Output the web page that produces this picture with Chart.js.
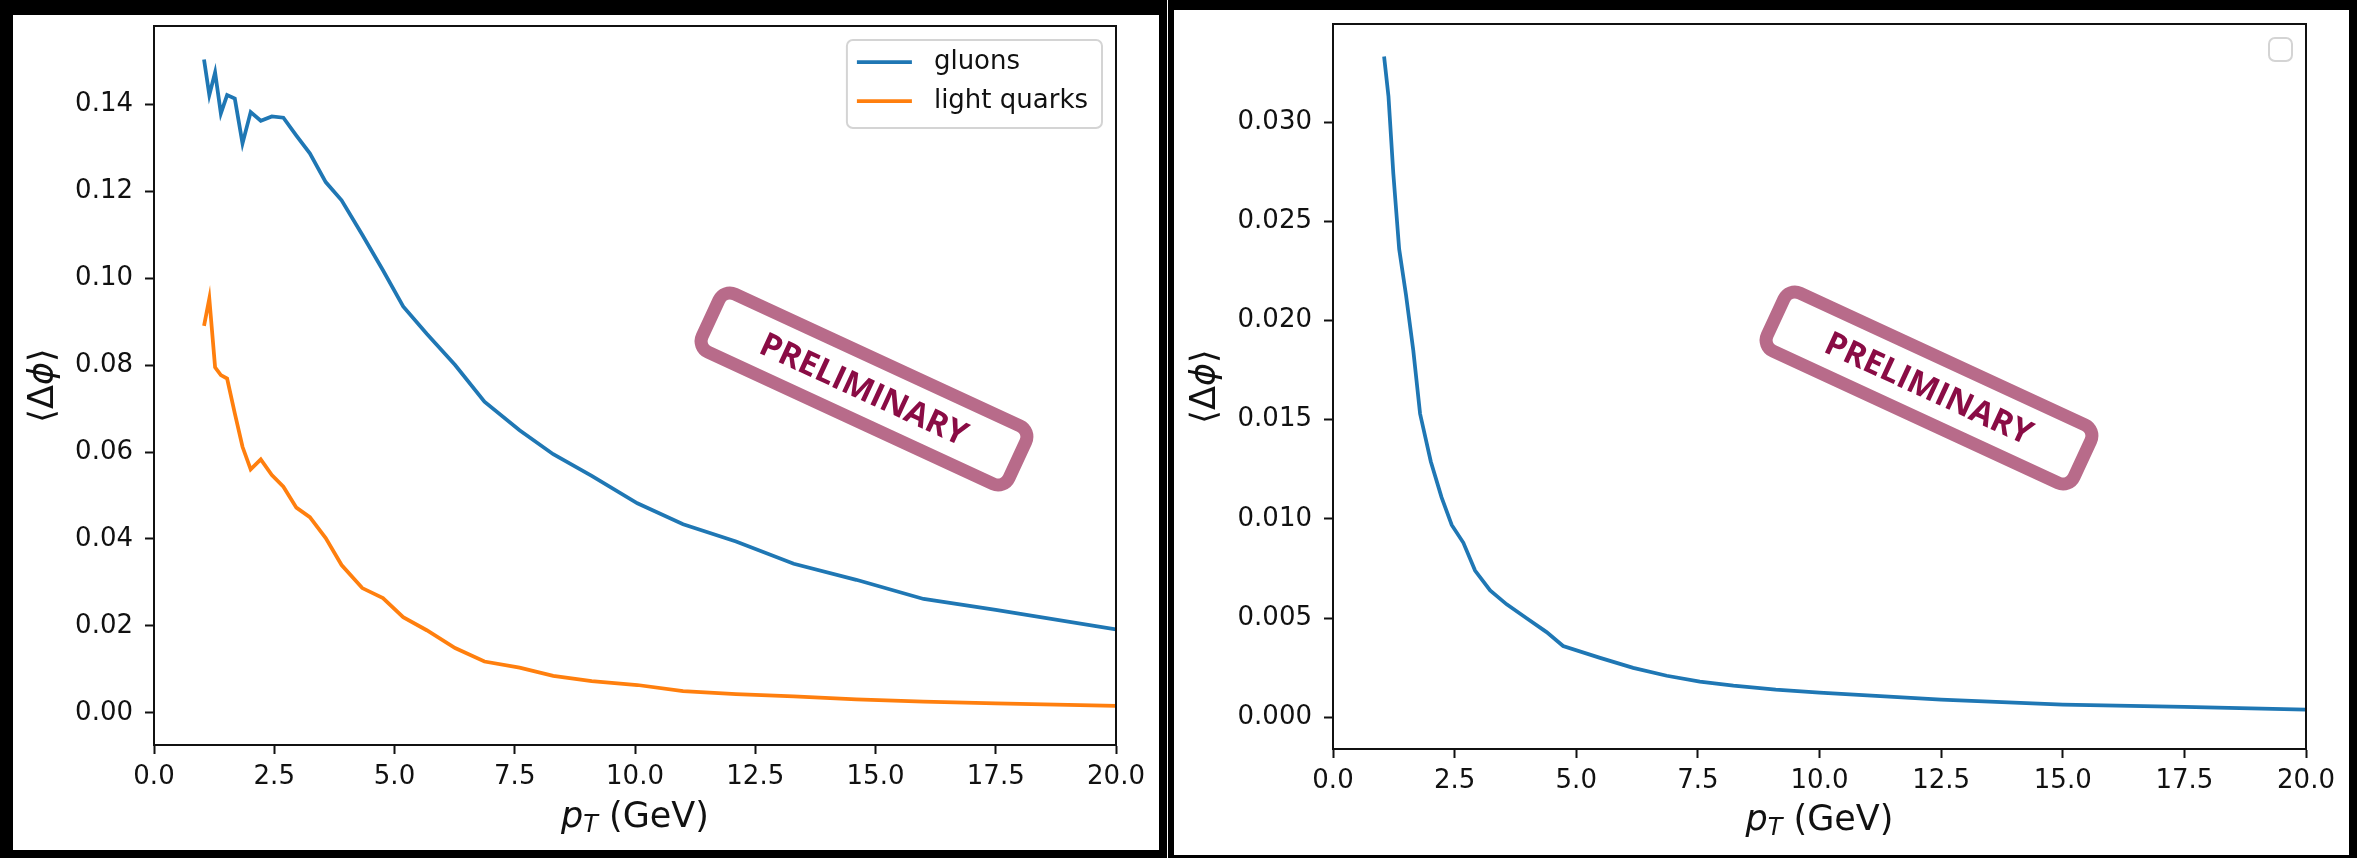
<!DOCTYPE html>
<html>
<head>
<meta charset="utf-8">
<title>mean delta phi vs pT</title>
<script src="https://cdn.jsdelivr.net/npm/chart.js@4.4.1/dist/chart.umd.min.js"></script>
<style>
  html, body { margin: 0; padding: 0; background: #fff; }
  .panel { position: absolute; top: 0; height: 858px; box-sizing: border-box; border-style: solid; border-color: #000; background: #fff; }
  #panel-left { left: 0; width: 1167px; border-width: 15px 8px 8px 13px; }
  #panel-right { left: 1168px; width: 1189px; border-width: 10px 8px 3px 6px; }
  canvas { display: block; }
</style>
</head>
<body>
<div class="panel" id="panel-left"><canvas id="chart-left" width="1146" height="835"></canvas></div>
<div class="panel" id="panel-right"><canvas id="chart-right" width="1175" height="845"></canvas></div>
<script>
// pT bin centres (GeV) and mean delta-phi for gluons / light quarks
var ptLeft = [1.04, 1.15, 1.27, 1.39, 1.52, 1.68, 1.84, 2.01, 2.22, 2.45, 2.69, 2.96, 3.24, 3.57, 3.90, 4.33,
              4.76, 5.18, 5.67, 6.26, 6.87, 7.6, 8.3, 9.1, 10.05, 11.0, 12.1, 13.3, 14.6, 16.0, 17.5, 20.0];
var gluons = [0.1503, 0.1421, 0.1473, 0.1379, 0.1421, 0.1413, 0.1310, 0.1382, 0.1362, 0.1372, 0.1369, 0.1328,
              0.1287, 0.1221, 0.1179, 0.1100, 0.1018, 0.0935, 0.0872, 0.0800, 0.0716, 0.0650, 0.0595, 0.0545,
              0.0482, 0.0434, 0.0394, 0.0343, 0.0306, 0.0262, 0.0237, 0.0192];
var lightQuarks = [0.0890, 0.0953, 0.0795, 0.0777, 0.0769, 0.0689, 0.0612, 0.0560, 0.0583, 0.0547, 0.0520, 0.0472,
                   0.0450, 0.0402, 0.0340, 0.0287, 0.0264, 0.0220, 0.0190, 0.0149, 0.0118, 0.0104, 0.0085, 0.0073,
                   0.0064, 0.0050, 0.0043, 0.0038, 0.0031, 0.0026, 0.0022, 0.0016];

// second panel, single unlabeled curve
var ptRight = [1.05, 1.14, 1.24, 1.36, 1.50, 1.65, 1.79, 2.01, 2.23, 2.44, 2.68, 2.92, 3.23, 3.57, 3.98, 4.39,
               4.73, 5.49, 6.17, 6.86, 7.54, 8.23, 9.10, 10.0, 12.5, 15.0, 17.5, 20.0];
var dphiRight = [0.0333, 0.0313, 0.0274, 0.0236, 0.0213, 0.0185, 0.0153, 0.0129, 0.0111, 0.0097, 0.0088, 0.0074,
                 0.0064, 0.0057, 0.0050, 0.0043, 0.0036, 0.0030, 0.0025, 0.0021, 0.0018, 0.0016, 0.0014, 0.00125,
                 0.00090, 0.00065, 0.00053, 0.00039];

var xTicks = [0, 2.5, 5, 7.5, 10, 12.5, 15, 17.5, 20];
var yTicksLeft = [0, 0.02, 0.04, 0.06, 0.08, 0.10, 0.12, 0.14];
var yTicksRight = [0, 0.005, 0.010, 0.015, 0.020, 0.025, 0.030];

var INK = '#111';
var TICK_FONT = { family: 'DejaVu Sans', size: 26 };

function pairs(xs, ys) {
    return xs.map(function (x, i) { return { x: x, y: ys[i] }; });
}

function drawRuns(ctx, runs, cx, cy) {
    var total = 0;
    runs.forEach(function (r) { ctx.font = r.font; total += ctx.measureText(r.text).width; });
    var x = cx - total / 2;
    ctx.textAlign = 'left';
    ctx.textBaseline = 'middle';
    runs.forEach(function (r) {
        ctx.font = r.font;
        ctx.fillText(r.text, x, cy + (r.dy || 0));
        x += ctx.measureText(r.text).width;
    });
}

// frame, axis titles, in-axes legend and the stamp
var decor = {
    id: 'decor',
    afterDraw: function (chart, args, opts) {
        var ctx = chart.ctx, a = chart.chartArea;
        ctx.save();

        // full box around the axes
        ctx.strokeStyle = INK;
        ctx.lineWidth = 2;
        ctx.strokeRect(a.left, a.top, a.right - a.left, a.bottom - a.top);

        // axis titles
        ctx.fillStyle = INK;
        var big = '35px "DejaVu Sans"', bigIt = 'oblique 35px "DejaVu Sans"';
        drawRuns(ctx, [
            { text: 'p', font: bigIt },
            { text: 'T', font: 'oblique 24px "DejaVu Sans"', dy: 8 },
            { text: ' (GeV)', font: big }
        ], (a.left + a.right) / 2, a.bottom + opts.xTitleOffset);

        ctx.save();
        ctx.translate(opts.yTitleX, (a.top + a.bottom) / 2);
        ctx.rotate(-Math.PI / 2);
        drawRuns(ctx, [
            { text: '\u27E8\u0394', font: big },
            { text: '\u03D5', font: bigIt },
            { text: '\u27E9', font: big }
        ], 0, 0);
        ctx.restore();

        // legend box, top right inside the axes
        var labeled = chart.data.datasets.filter(function (d) { return d.label; });
        ctx.font = '26px "DejaVu Sans"';
        var w = 23, h = 23;
        if (labeled.length) {
            var tw = Math.max.apply(null, labeled.map(function (d) { return ctx.measureText(d.label).width; }));
            w = 87 + tw + 14;
            h = 88;
        }
        var bx = a.right - 14 - w, by = a.top + 14;
        ctx.beginPath();
        ctx.roundRect(bx, by, w, h, 6);
        ctx.fillStyle = 'rgba(255,255,255,0.8)';
        ctx.fill();
        ctx.strokeStyle = '#d4d4d4';
        ctx.lineWidth = 2;
        ctx.stroke();
        labeled.forEach(function (d, i) {
            var ry = by + 22 + i * 39;
            ctx.beginPath();
            ctx.moveTo(bx + 10, ry);
            ctx.lineTo(bx + 65, ry);
            ctx.strokeStyle = d.borderColor;
            ctx.lineWidth = 3.75;
            ctx.stroke();
            ctx.fillStyle = INK;
            ctx.textAlign = 'left';
            ctx.textBaseline = 'middle';
            ctx.fillText(d.label, bx + 87, ry);
        });

        // PRELIMINARY stamp
        ctx.translate(opts.stampX, opts.stampY);
        ctx.rotate(24.8 * Math.PI / 180);
        ctx.beginPath();
        ctx.roundRect(-169, -32, 338, 64, 12);
        ctx.fillStyle = '#fff';
        ctx.fill();
        ctx.strokeStyle = '#b86b8a';
        ctx.lineWidth = 13;
        ctx.stroke();
        ctx.fillStyle = '#8a0c45';
        ctx.font = 'bold 33px "Open Sans"';
        ctx.textAlign = 'center';
        ctx.textBaseline = 'middle';
        ctx.fillText('PRELIMINARY', 0, 2);

        ctx.restore();
    }
};

function makeChart(id, datasets, yMin, yMax, yTicks, digits, box, deco) {
    return new Chart(document.getElementById(id), {
        type: 'line',
        data: { datasets: datasets },
        options: {
            responsive: false,
            animation: false,
            devicePixelRatio: 1,
            layout: { padding: { left: 0, top: box.top, right: box.right, bottom: 0 } },
            elements: { point: { radius: 0 }, line: { tension: 0, borderWidth: 3.75 } },
            plugins: { legend: { display: false }, tooltip: { enabled: false }, decor: deco },
            scales: {
                x: {
                    type: 'linear', min: 0, max: 20,
                    afterFit: function (s) {
                        s.height = box.xHeight;
                        s.paddingLeft = 0; s.paddingRight = 0;
                    },
                    afterBuildTicks: function (s) { s.ticks = xTicks.map(function (v) { return { value: v }; }); },
                    ticks: { font: TICK_FONT, color: INK, padding: 8, maxRotation: 0, autoSkip: false,
                             callback: function (v) { return v.toFixed(1); } },
                    grid: { drawOnChartArea: false, tickLength: 9, tickWidth: 2, tickColor: INK, color: INK },
                    border: { color: INK, width: 2 }
                },
                y: {
                    type: 'linear', min: yMin, max: yMax,
                    afterFit: function (s) {
                        s.width = box.yWidth;
                        s.paddingTop = 0; s.paddingBottom = 0;
                    },
                    afterBuildTicks: function (s) { s.ticks = yTicks.map(function (v) { return { value: v }; }); },
                    ticks: { font: TICK_FONT, color: INK, padding: 12,
                             callback: function (v) { return v.toFixed(digits); } },
                    grid: { drawOnChartArea: false, tickLength: 9, tickWidth: 2, tickColor: INK, color: INK },
                    border: { color: INK, width: 2 }
                }
            }
        },
        plugins: [decor]
    });
}

var chartLeft = makeChart('chart-left', [{
    label: 'gluons',
    borderColor: '#1f77b4',
    backgroundColor: '#1f77b4',
    fill: false,
    data: pairs(ptLeft, gluons)
}, {
    label: 'light quarks',
    borderColor: '#ff7f0e',
    backgroundColor: '#ff7f0e',
    fill: false,
    data: pairs(ptLeft, lightQuarks)
}], -0.0074, 0.158, yTicksLeft, 2,
    { top: 11, right: 43, xHeight: 105, yWidth: 141 },
    { xTitleOffset: 73, yTitleX: 31, stampX: 851, stampY: 374 });

var chartRight = makeChart('chart-right', [{
    borderColor: '#1f77b4',
    backgroundColor: '#1f77b4',
    fill: false,
    data: pairs(ptRight, dphiRight)
}], -0.00159, 0.03494, yTicksRight, 3,
    { top: 14, right: 43, xHeight: 106, yWidth: 159 },
    { xTitleOffset: 72, yTitleX: 32, stampX: 755, stampY: 378 });
</script>
</body>
</html>
